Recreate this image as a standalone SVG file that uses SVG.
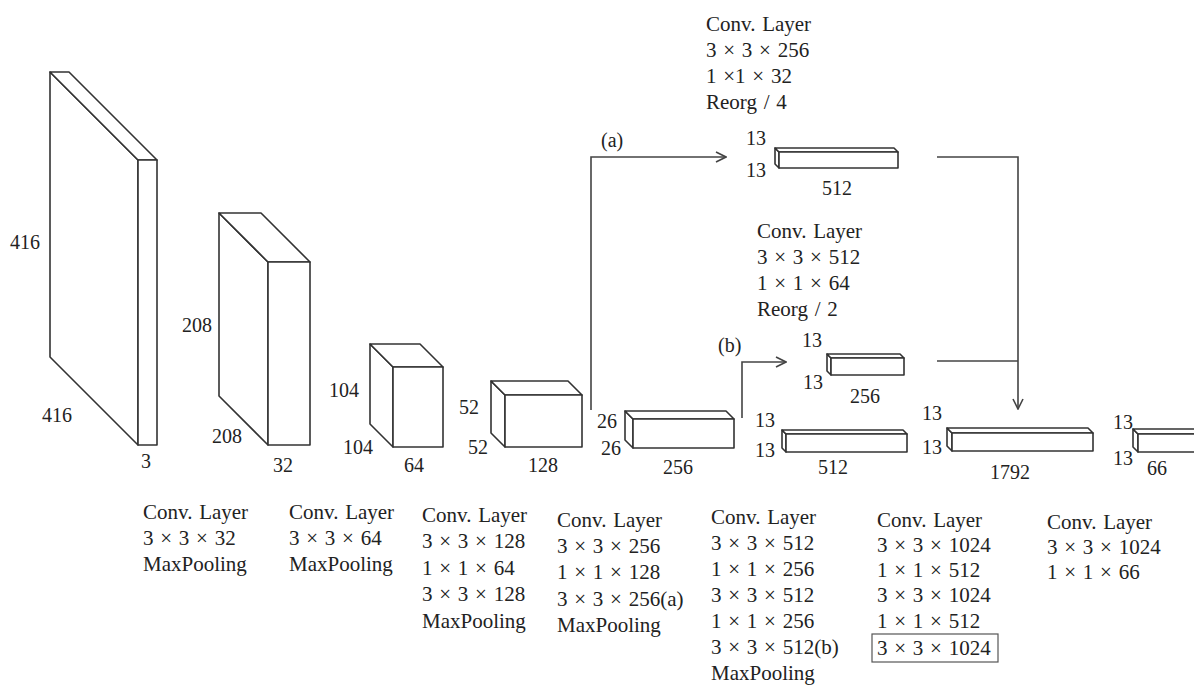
<svg xmlns="http://www.w3.org/2000/svg" width="1194" height="686" viewBox="0 0 1194 686">
<defs>
<style>
.f{fill:#fff;stroke:#333;stroke-width:1.6;stroke-linejoin:round}
.c{fill:none;stroke:#444;stroke-width:1.6}
text{font-family:"Liberation Serif","Times New Roman",serif;fill:#222}
.n{font-family:"Liberation Serif","Times New Roman",serif;font-size:20px}
.t{font-family:"Liberation Serif","Times New Roman",serif;font-size:21px;word-spacing:1.5px}
.m{text-anchor:middle}
</style>
<marker id="ah" viewBox="0 0 12 12" refX="11" refY="6" markerWidth="12" markerHeight="12" markerUnits="userSpaceOnUse" orient="auto">
<path d="M1,1 L11,6 L1,11" fill="none" stroke="#444" stroke-width="1.6"/>
</marker>
</defs>
<rect width="1194" height="686" fill="#fff"/>

<g id="box416">
<polygon class="f" points="138,160 50,72 50,357 138,445"/>
<polygon class="f" points="138,160 50,72 69,72 157,160"/>
<rect class="f" x="138" y="160" width="19" height="285"/>
<text class="n" x="10" y="249">416</text>
<text class="n" x="42" y="422">416</text>
<text class="n m" x="146" y="468">3</text>
</g>

<g id="box208">
<polygon class="f" points="268,262 219,213 219,396 268,445"/>
<polygon class="f" points="268,262 219,213 261,213 310,262"/>
<rect class="f" x="268" y="262" width="42" height="183"/>
<text class="n" x="182" y="332">208</text>
<text class="n" x="212" y="443">208</text>
<text class="n m" x="283" y="472">32</text>
</g>

<g id="box104">
<polygon class="f" points="393,367 370,344 370,424 393,447"/>
<polygon class="f" points="393,367 370,344 420,344 443,367"/>
<rect class="f" x="393" y="367" width="50" height="80"/>
<text class="n" x="329" y="397">104</text>
<text class="n" x="343" y="454">104</text>
<text class="n m" x="414" y="472">64</text>
</g>

<g id="box52">
<polygon class="f" points="505,395 491,381 491,433 505,447"/>
<polygon class="f" points="505,395 491,381 568,381 582,395"/>
<rect class="f" x="505" y="395" width="77" height="52"/>
<text class="n" x="459" y="414">52</text>
<text class="n" x="468" y="454">52</text>
<text class="n m" x="543" y="472">128</text>
</g>

<g id="box26">
<polygon class="f" points="633,419 625,411 625,440 633,448"/>
<polygon class="f" points="633,419 625,411 726,411 734,419"/>
<rect class="f" x="633" y="419" width="101" height="29"/>
<text class="n" x="597" y="428">26</text>
<text class="n" x="601" y="455">26</text>
<text class="n m" x="678" y="474">256</text>
</g>

<g id="boxA">
<polygon class="f" points="779,152 775,148 775,164 779,168"/>
<polygon class="f" points="779,152 775,148 894,148 898,152"/>
<rect class="f" x="779" y="152" width="119" height="16"/>
<text class="n" x="746" y="145">13</text>
<text class="n" x="746" y="177">13</text>
<text class="n m" x="837" y="195">512</text>
<text class="t" x="706" y="31">Conv. Layer</text>
<text class="t" x="706" y="57">3 × 3 × 256</text>
<text class="t" x="706" y="83">1 ×1 × 32</text>
<text class="t" x="706" y="109" word-spacing="6">Reorg / 4</text>
</g>

<g id="boxB">
<polygon class="f" points="831,358 827,354 827,371 831,375"/>
<polygon class="f" points="831,358 827,354 900,354 904,358"/>
<rect class="f" x="831" y="358" width="73" height="17"/>
<text class="n" x="802" y="347">13</text>
<text class="n" x="803" y="389">13</text>
<text class="n m" x="865" y="403">256</text>
<text class="t" x="757" y="238">Conv. Layer</text>
<text class="t" x="757" y="264">3 × 3 × 512</text>
<text class="t" x="757" y="290">1 × 1 × 64</text>
<text class="t" x="757" y="316" word-spacing="6">Reorg / 2</text>
</g>

<g id="box512">
<polygon class="f" points="786,434 782,430 782,448 786,452"/>
<polygon class="f" points="786,434 782,430 903,430 907,434"/>
<rect class="f" x="786" y="434" width="121" height="18"/>
<text class="n" x="755" y="427">13</text>
<text class="n" x="755" y="457">13</text>
<text class="n m" x="833" y="474">512</text>
</g>

<g id="box1792">
<polygon class="f" points="952,433 947,428 947,446 952,451"/>
<polygon class="f" points="952,433 947,428 1088,428 1093,433"/>
<rect class="f" x="952" y="433" width="141" height="18"/>
<text class="n" x="922" y="420">13</text>
<text class="n" x="922" y="454">13</text>
<text class="n m" x="1010" y="479">1792</text>
</g>

<g id="box66">
<polygon class="f" points="1138,434 1133,429 1133,447 1138,452"/>
<polygon class="f" points="1138,434 1133,429 1205,429 1210,434"/>
<rect class="f" x="1138" y="434" width="72" height="18"/>
<text class="n" x="1113" y="429">13</text>
<text class="n" x="1113" y="465">13</text>
<text class="n m" x="1157" y="475">66</text>
</g>

<g id="connectors">
<polyline class="c" points="591,410 591,157 726,157" marker-end="url(#ah)"/>
<text class="n" x="601" y="147">(a)</text>
<polyline class="c" points="742,418 742,362 786,362" marker-end="url(#ah)"/>
<text class="n" x="718" y="352">(b)</text>
<polyline class="c" points="937,157 1018,157 1018,409" marker-end="url(#ah)"/>
<line class="c" x1="937" y1="361" x2="1018" y2="361"/>
</g>

<g id="labels">
<text class="t" x="143" y="519">Conv. Layer</text>
<text class="t" x="143" y="545">3 × 3 × 32</text>
<text class="t" x="143" y="571">MaxPooling</text>

<text class="t" x="289" y="519">Conv. Layer</text>
<text class="t" x="289" y="545">3 × 3 × 64</text>
<text class="t" x="289" y="571">MaxPooling</text>

<text class="t" x="422" y="522">Conv. Layer</text>
<text class="t" x="422" y="548">3 × 3 × 128</text>
<text class="t" x="422" y="575">1 × 1 × 64</text>
<text class="t" x="422" y="601">3 × 3 × 128</text>
<text class="t" x="422" y="628">MaxPooling</text>

<text class="t" x="557" y="527">Conv. Layer</text>
<text class="t" x="557" y="553">3 × 3 × 256</text>
<text class="t" x="557" y="579">1 × 1 × 128</text>
<text class="t" x="557" y="606">3 × 3 × 256(a)</text>
<text class="t" x="557" y="632">MaxPooling</text>

<text class="t" x="711" y="524">Conv. Layer</text>
<text class="t" x="711" y="550">3 × 3 × 512</text>
<text class="t" x="711" y="576">1 × 1 × 256</text>
<text class="t" x="711" y="602">3 × 3 × 512</text>
<text class="t" x="711" y="628">1 × 1 × 256</text>
<text class="t" x="711" y="654">3 × 3 × 512(b)</text>
<text class="t" x="711" y="680">MaxPooling</text>

<text class="t" x="877" y="527">Conv. Layer</text>
<text class="t" x="877" y="552">3 × 3 × 1024</text>
<text class="t" x="877" y="577">1 × 1 × 512</text>
<text class="t" x="877" y="602">3 × 3 × 1024</text>
<text class="t" x="877" y="628">1 × 1 × 512</text>
<rect x="872" y="634" width="126" height="28" fill="none" stroke="#555" stroke-width="1.2"/>
<text class="t" x="877" y="655">3 × 3 × 1024</text>

<text class="t" x="1047" y="529">Conv. Layer</text>
<text class="t" x="1047" y="554">3 × 3 × 1024</text>
<text class="t" x="1047" y="579">1 × 1 × 66</text>
</g>
</svg>
